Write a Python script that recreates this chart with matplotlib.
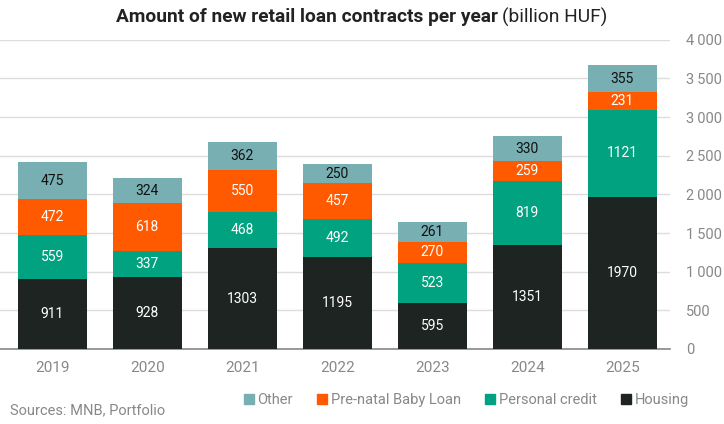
import numpy as np
import matplotlib.pyplot as plt
from matplotlib.lines import Line2D

# -----------------------------
# Data (billion HUF)
# -----------------------------
years = ["2019", "2020", "2021", "2022", "2023", "2024", "2025"]
housing = [911, 928, 1303, 1195, 595, 1351, 1970]
personal_credit = [559, 337, 468, 492, 523, 819, 1121]
baby_loan = [472, 618, 550, 457, 270, 259, 231]
other = [475, 324, 362, 250, 261, 330, 355]

series_names = ["Housing", "Personal credit", "Pre-natal Baby Loan", "Other"]
series_colors = ["#1d2422", "#00a27f", "#ff5a00", "#77afb3"]
label_colors = ["white", "white", "white", "#111111"]

plt.rcParams['font.family'] = ['Roboto', 'DejaVu Sans']

fig = plt.figure(figsize=(7.24, 4.24), dpi=100)
ax = fig.add_axes([0.0, 0.177, 0.925, 0.729])

x = np.arange(len(years))
bottom = np.zeros(len(years))
for vals, name, col, lcol in zip([housing, personal_credit, baby_loan, other],
                                 series_names, series_colors, label_colors):
    vals = np.array(vals, dtype=float)
    bars = ax.bar(x, vals, width=0.725, bottom=bottom, color=col, label=name, zorder=3)
    ax.bar_label(bars, labels=[str(int(v)) for v in vals], label_type='center',
                 color=lcol, fontsize=10)
    bottom += vals

# -----------------------------
# Axes styling
# -----------------------------
ax.set_xlim(-0.55, 6.5)
ax.set_ylim(0, 4000)
ax.set_yticks(np.arange(0, 4001, 500))
ax.yaxis.tick_right()
ax.set_yticklabels([f"{v:,}".replace(",", "\u2009") for v in range(0, 4001, 500)])
ax.set_xticks(x)
ax.set_xticklabels(years)
ax.tick_params(axis='both', length=0, colors='#888888', labelsize=11)
ax.tick_params(axis='y', pad=12, labelsize=10.5)
ax.tick_params(axis='x', pad=9)
for lab in ax.get_yticklabels():
    lab.set_horizontalalignment('left')
ax.grid(axis='y', color='#dddddd', linewidth=1, zorder=0)
for s in ['top', 'right', 'left']:
    ax.spines[s].set_visible(False)
ax.spines['bottom'].set_color('#888888')
ax.spines['bottom'].set_linewidth(1.2)

# -----------------------------
# Title (bold part + regular unit)
# -----------------------------
t1 = fig.text(116 / 724, 1 - 17 / 424, "Amount of new retail loan contracts per year",
              fontsize=13.8, fontweight='bold', color='#222222', va='center', ha='left')
fig.canvas.draw()
bb = t1.get_window_extent()
fig.text((bb.x1 + 4) / fig.bbox.width, 1 - 17 / 424, "(billion HUF)",
         fontsize=13.8, color='#222222', va='center', ha='left')

# -----------------------------
# Legend and source
# -----------------------------
handles = [Line2D([], [], marker='s', linestyle='none', markersize=7,
                  color=series_colors[i]) for i in [3, 2, 1, 0]]
labels = [series_names[i] for i in [3, 2, 1, 0]]
leg = fig.legend(handles, labels, ncol=4, loc='center', bbox_to_anchor=(466 / 724, 1 - 400 / 424),
                 frameon=False, fontsize=10.5, handletextpad=0.2, columnspacing=1.6,
                 handlelength=0.8)
for t in leg.get_texts():
    t.set_color('#888888')

fig.text(10 / 724, 1 - 410 / 424, "Sources: MNB, Portfolio", fontsize=10.5,
         color='#888888', va='center', ha='left')

fig.savefig("out.png", dpi=100)
